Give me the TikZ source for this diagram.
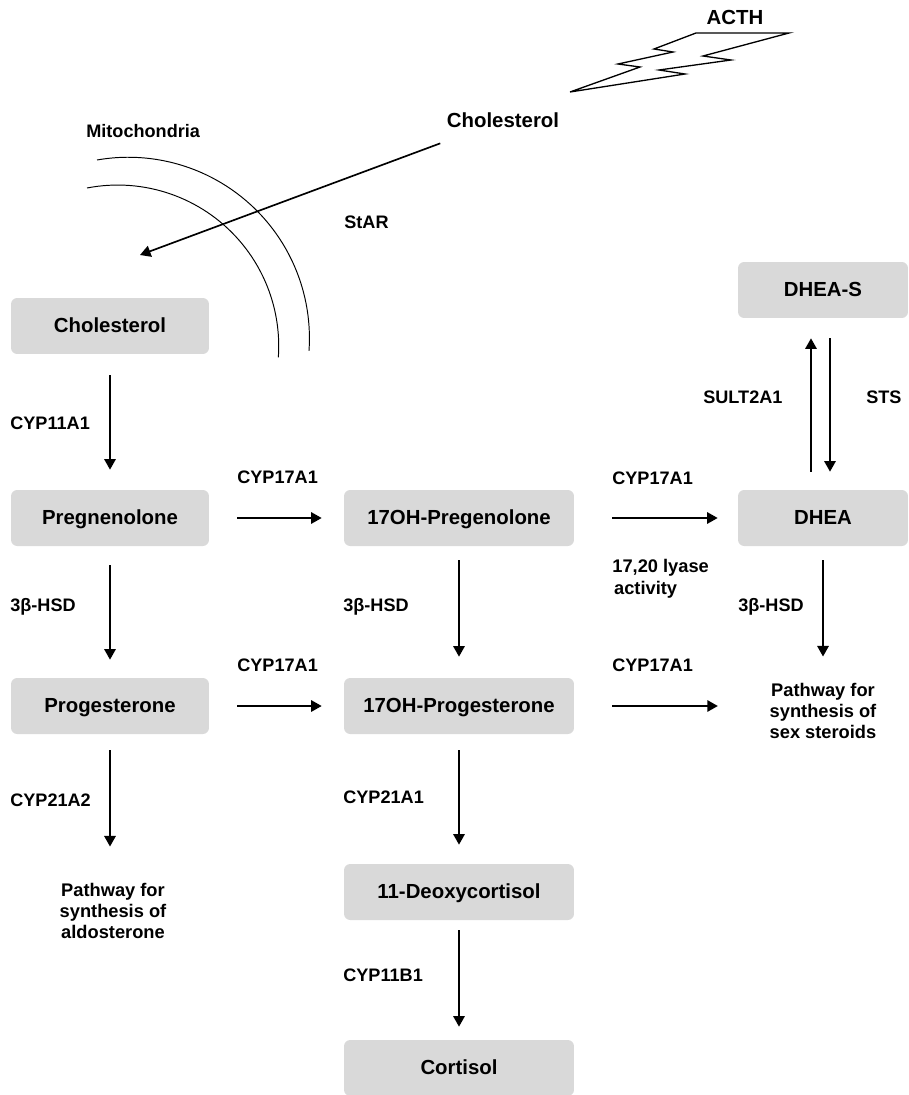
\documentclass[tikz,border=0pt]{standalone}
\usepackage{fontspec}
\setmainfont{Liberation Sans}
\usetikzlibrary{arrows.meta,calc}
\definecolor{boxgray}{HTML}{D9D9D9}
\tikzset{
  box/.style={fill=boxgray, rounded corners=3.5pt, minimum height=1.12cm, inner sep=0pt,
    text height=0.716em, text depth=0pt, font=\fontsize{11.6}{14}\selectfont\bfseries},
  lbl/.style={inner sep=0pt, text depth=0pt, font=\fontsize{10.3}{12.3}\selectfont\bfseries},
  note/.style={inner sep=0pt, font=\fontsize{10.4}{12.2}\selectfont\bfseries},
  big/.style={inner sep=0pt, font=\fontsize{11.6}{14}\selectfont\bfseries},
  arr/.style={line width=0.95pt, -{Triangle[length=6pt,width=6.5pt]}},
}
\begin{document}
\begin{tikzpicture}[x=0.02cm, y=-0.02cm]
\useasboundingbox (0,0) rectangle (909,1095);

% steroid boxes
\node[box, minimum width=3.96cm] (chol) at (110,326) {Cholesterol};
\node[box, minimum width=3.96cm] (preg) at (110,518) {Pregnenolone};
\node[box, minimum width=3.96cm] (prog) at (110,706) {Progesterone};
\node[box, minimum width=4.6cm] (ohpreg) at (459,518) {17OH-Pregenolone};
\node[box, minimum width=4.6cm] (ohprog) at (459,706) {17OH-Progesterone};
\node[box, minimum width=4.6cm] (deoxy) at (459,892) {11-Deoxycortisol};
\node[box, minimum width=4.6cm] (cortisol) at (459,1068) {Cortisol};
\node[box, minimum width=3.4cm] (dhea) at (823,518) {DHEA};
\node[box, minimum width=3.4cm] (dheas) at (823,290) {DHEA-S};

\node[note, align=center] (aldo) at (113,911) {Pathway for\\synthesis of\\aldosterone};
\node[note, align=center] (sexst) at (823,711) {Pathway for\\synthesis of\\sex steroids};

% outside the mitochondria
\node[big] (acth) at (735,17) {ACTH};
\node[big] (cholT) at (503,120) {Cholesterol};
\node[lbl, anchor=west] (mito) at (86,131) {Mitochondria};
\node[lbl, anchor=west] (star) at (344,222) {StAR};
\coordinate (mitoIn) at (140,255);

\draw[line width=0.75pt, line join=miter] (696,33) -- (789,33) -- (703,56) -- (731,60)
  -- (659,70) -- (685,74) -- (570,92) -- (640,67) -- (618,64) -- (673,52) -- (654,49) -- cycle;

\draw[line width=0.55pt] (97,160) arc[start angle=-100, end angle=4, radius=181];
\draw[line width=0.55pt] (87,188) arc[start angle=-101, end angle=4, radius=161];

\draw[arr, shorten <=0.89cm] (cholT) -- (mitoIn);

% pathway arrows
\draw[arr, shorten <=0.42cm, shorten >=0.4cm] (chol) -- (preg);
\draw[arr, shorten <=0.38cm, shorten >=0.36cm] (preg) -- (prog);
\draw[arr, shorten <=0.32cm, shorten >=0.72cm] (prog) -- (prog |- aldo.north);
\draw[arr, shorten <=0.28cm, shorten >=0.42cm] (ohpreg) -- (ohprog);
\draw[arr, shorten <=0.32cm, shorten >=0.38cm] (ohprog) -- (deoxy);
\draw[arr, shorten <=0.2cm, shorten >=0.26cm] (deoxy) -- (cortisol);
\draw[arr, shorten <=0.56cm, shorten >=0.44cm] (preg) -- (ohpreg);
\draw[arr, shorten <=0.56cm, shorten >=0.44cm] (prog) -- (ohprog);
\draw[arr, shorten <=0.76cm, shorten >=0.4cm] (ohpreg) -- (dhea);
\draw[arr, shorten <=0.76cm, shorten >=1.03cm] (ohprog) -- (ohprog -| sexst.west);
\draw[arr, shorten <=0.28cm, shorten >=0.52cm] (dhea) -- (dhea |- sexst.north);
\draw[arr, shorten <=0.36cm, shorten >=0.4cm] ($(dhea.north)+(-12,0)$) -- ($(dheas.south)+(-12,0)$);
\draw[arr, shorten <=0.4cm, shorten >=0.36cm] ($(dheas.south)+(7,0)$) -- ($(dhea.north)+(7,0)$);

% enzymes
\node[lbl, anchor=west] (cyp11a1) at (10,423) {CYP11A1};
\node[lbl, anchor=west] (cyp17a) at (237,477) {CYP17A1};
\node[lbl, anchor=west] (hsdA) at (10,605) {3β-HSD};
\node[lbl, anchor=west] (cyp17b) at (237,665) {CYP17A1};
\node[lbl, anchor=west] (cyp21a2) at (10,800) {CYP21A2};
\node[lbl, anchor=west] (hsdB) at (343,605) {3β-HSD};
\node[lbl, anchor=west] (cyp21a1) at (343,797) {CYP21A1};
\node[lbl, anchor=west] (cyp11b1) at (343,975) {CYP11B1};
\node[lbl, anchor=west] (cyp17c) at (612,478) {CYP17A1};
\node[note, anchor=north west, align=left] (lyase) at (612,559) {17,20 lyase\\\hspace{1pt}activity};
\node[lbl, anchor=west] (cyp17d) at (612,665) {CYP17A1};
\node[lbl, anchor=west] (hsdC) at (738,605) {3β-HSD};
\node[lbl, anchor=west] (sult) at (703,397) {SULT2A1};
\node[lbl, anchor=west] (sts) at (866,397) {STS};
\end{tikzpicture}
\end{document}
